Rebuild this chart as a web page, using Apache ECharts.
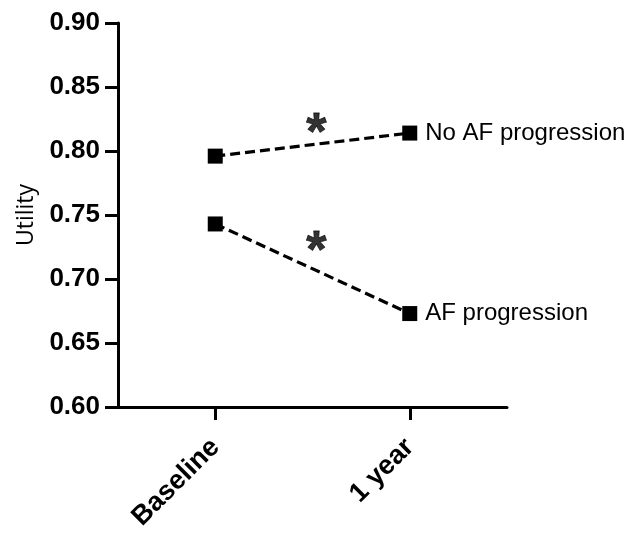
<!DOCTYPE html>
<html>
<head>
<meta charset="utf-8">
<script src="https://cdn.jsdelivr.net/npm/echarts@6/dist/echarts.min.js"></script>
<style>
html,body{margin:0;padding:0;background:#fff;}
#chart{width:628px;height:534px;}
</style>
</head>
<body>
<div id="chart"></div>
<script>
var categories = ['Baseline', '1 year'];
var noAFProgression = [0.796, 0.814];
var afProgression = [0.743, 0.673];
var seriesNames = ['No AF progression', 'AF progression'];
var yTicks = { min: 0.60, max: 0.90, interval: 0.05 };
var starX = [0.52, 0.52];
var starY = [0.821, 0.729];

var chart = echarts.init(document.getElementById('chart'), null, { renderer: 'canvas' });

var FONT = "'Liberation Sans', Arial, Helvetica, sans-serif";

function lineSeries(name, vals) {
  return {
    type: 'line',
    name: name,
    xAxisIndex: 0,
    yAxisIndex: 0,
    data: vals.map(function (v, i) {
      if (i === vals.length - 1) {
        return {
          value: v,
          label: {
            show: true,
            position: 'right',
            distance: 8,
            formatter: name,
            color: '#000',
            fontFamily: FONT,
            fontSize: 24
          }
        };
      }
      return v;
    }),
    symbol: 'rect',
    symbolSize: 15,
    showSymbol: true,
    lineStyle: { color: '#000', width: 3.2, type: [10, 5] },
    itemStyle: { color: '#000' },
    emphasis: { disabled: true },
    animation: false
  };
}

var starData = starX.map(function (x, i) { return [x, starY[i]]; });

chart.setOption({
  backgroundColor: '#fff',
  animation: false,
  grid: { left: 118, right: 121, top: 23, bottom: 127, containLabel: false },
  xAxis: [{
    type: 'category',
    data: categories,
    boundaryGap: true,
    axisLine: { onZero: false, lineStyle: { color: '#000', width: 3 } },
    axisTick: { show: true, alignWithLabel: true, length: 13, lineStyle: { color: '#000', width: 3 } },
    axisLabel: { rotate: 45, margin: 36, color: '#000', fontFamily: FONT, fontWeight: 'bold', fontSize: 27 },
    splitLine: { show: false }
  }, {
    type: 'value',
    min: -0.5,
    max: 1.5,
    show: false
  }],
  yAxis: {
    type: 'value',
    min: yTicks.min,
    max: yTicks.max,
    interval: yTicks.interval,
    name: 'Utility',
    nameLocation: 'middle',
    nameGap: 80,
    nameTextStyle: { color: '#000', fontFamily: "'Open Sans', sans-serif", fontSize: 23 },
    axisLine: { show: true, onZero: false, lineStyle: { color: '#000', width: 3 } },
    axisTick: { show: true, length: 13, lineStyle: { color: '#000', width: 3 } },
    axisLabel: {
      margin: 18,
      color: '#000',
      fontFamily: FONT,
      fontWeight: 'bold',
      fontSize: 26,
      formatter: function (v) { return v.toFixed(2); }
    },
    splitLine: { show: false }
  },
  series: [
    lineSeries(seriesNames[0], noAFProgression),
    lineSeries(seriesNames[1], afProgression),
    {
      type: 'scatter',
      xAxisIndex: 1,
      yAxisIndex: 0,
      data: starData,
      symbolSize: 2,
      itemStyle: { color: 'rgba(0,0,0,0)' },
      label: {
        show: true,
        position: 'inside',
        formatter: '*',
        color: '#000',
        textBorderColor: '#000',
        textBorderWidth: 0.8,
        fontFamily: FONT,
        fontWeight: 'bold',
        fontSize: 52
      },
      labelLayout: { hideOverlap: false, dy: 11 },
      emphasis: { disabled: true },
      silent: true
    }
  ]
});
</script>
</body>
</html>
